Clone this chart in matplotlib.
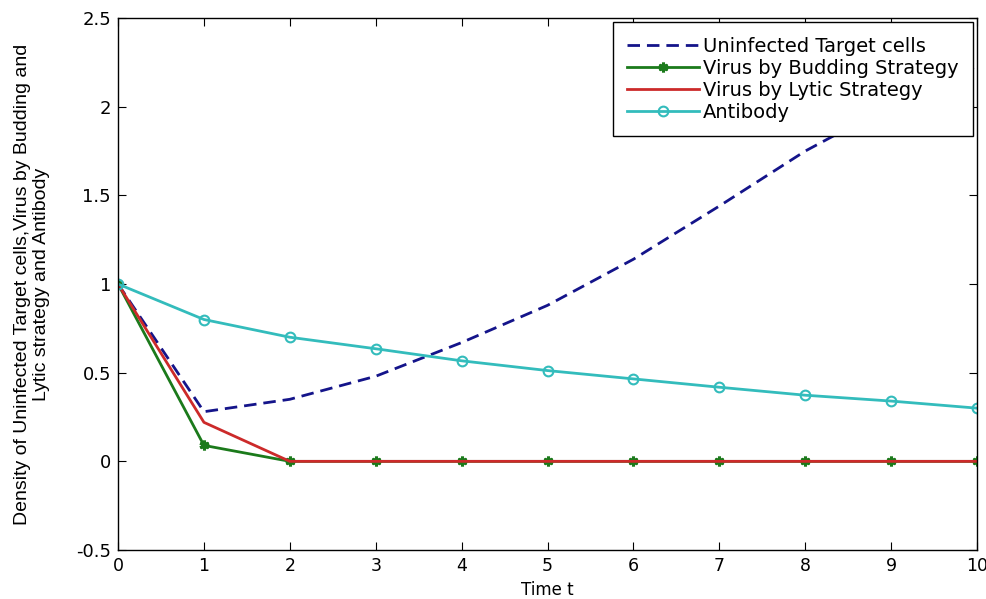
import numpy as np
import matplotlib.pyplot as plt

plt.rcParams['font.family'] = ['DejaVu Sans']

t = [0, 1, 2, 3, 4, 5, 6, 7, 8, 9, 10]
uninfected = [1.0, 0.28, 0.35, 0.48, 0.67, 0.88, 1.14, 1.44, 1.75, 2.01, 2.23]
budding = [1.0, 0.09, 0.0, 0.0, 0.0, 0.0, 0.0, 0.0, 0.0, 0.0, 0.0]
lytic = [1.0, 0.22, 0.0, 0.0, 0.0, 0.0, 0.0, 0.0, 0.0, 0.0, 0.0]
antibody = [1.0, 0.80, 0.70, 0.635, 0.567, 0.512, 0.465, 0.418, 0.373, 0.34, 0.30]

labels = ['Uninfected Target cells', 'Virus by Budding Strategy',
          'Virus by Lytic Strategy', 'Antibody']

fig = plt.figure(figsize=(9.87, 5.99), dpi=100)
ax = fig.add_axes([0.1196, 0.0818, 0.8703, 0.888])

ax.plot(t, uninfected, '--', color='#14148a', lw=2, dashes=(4.5, 2.5), label=labels[0])
ax.plot(t, budding, '-', color='#1b7a1b', lw=2, marker=(6, 2, 0), ms=7,
        mew=2.2, label=labels[1])
ax.plot(t, lytic, '-', color='#cc2a2a', lw=2, label=labels[2])
ax.plot(t, antibody, '-', color='#33bcbc', lw=2, marker='o', ms=7,
        mfc='none', mew=1.5, label=labels[3])

ax.set_xlim(0, 10)
ax.set_ylim(-0.5, 2.5)
ax.set_xticks(range(0, 11))
ax.set_yticks([-0.5, 0, 0.5, 1, 1.5, 2, 2.5])
ax.set_yticklabels(['-0.5', '0', '0.5', '1', '1.5', '2', '2.5'])
ax.tick_params(direction='in', top=True, right=True, labelsize=13, length=6, pad=5)
ax.tick_params(axis='x', labelsize=12.5)
for s in ax.spines.values():
    s.set_linewidth(1.0)

ax.set_xlabel('Time t', fontsize=12, labelpad=4)
ax.set_ylabel('Density of Uninfected Target cells,Virus by Budding and\nLytic strategy and Antibody',
              fontsize=14, linespacing=1.15, family=['Liberation Sans', 'DejaVu Sans'])
ax.yaxis.set_label_coords(-0.079, 0.5)

leg = ax.legend(loc='upper right', fontsize=14, handlelength=3.7, frameon=True,
                fancybox=False, edgecolor='black', framealpha=1, borderpad=0.75,
                labelspacing=0.16, handletextpad=0.2, borderaxespad=0.2)
leg.get_frame().set_linewidth(1.0)

fig.savefig('out.png', dpi=100)
